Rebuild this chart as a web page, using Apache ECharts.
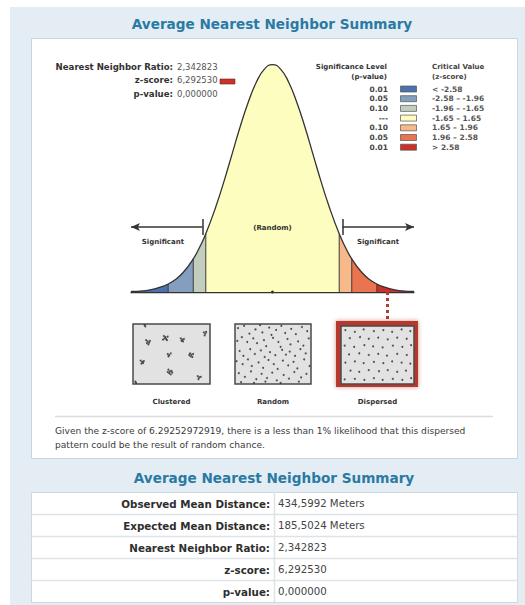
<!DOCTYPE html>
<html>
<head>
<meta charset="utf-8">
<script src="https://cdn.jsdelivr.net/npm/echarts@6/dist/echarts.min.js"></script>
<style>
  html, body { margin: 0; padding: 0; background: #fff; }
  #chart { width: 525px; height: 605px; }
</style>
</head>
<body>
<div id="chart"></div>
<script>
// normal curve (z-score -> height)
var curveZ = [-3.5, -3.2, -3.0, -2.8, -2.58, -2.4, -2.2, -1.96, -1.8, -1.65, -1.4, -1.2, -1.0, -0.8, -0.6, -0.4, -0.2, 0,
  0.2, 0.4, 0.6, 0.8, 1.0, 1.2, 1.4, 1.65, 1.8, 1.96, 2.2, 2.4, 2.58, 2.8, 3.0, 3.2, 3.5];
var curveY = [0.001, 0.002, 0.004, 0.008, 0.014, 0.022, 0.035, 0.058, 0.079, 0.102, 0.150, 0.194, 0.242, 0.290, 0.333, 0.368, 0.391, 0.399,
  0.391, 0.368, 0.333, 0.290, 0.242, 0.194, 0.150, 0.102, 0.079, 0.058, 0.035, 0.022, 0.014, 0.008, 0.004, 0.002, 0.001];

// significance zones
var zoneCuts = [-3.5, -2.58, -1.96, -1.65, 1.65, 1.96, 2.58, 3.5];
var zoneColors = ['#4a72ad', '#849ebf', '#c2cdbe', '#fefdc0', '#f8b98a', '#ea7350', '#cc3029'];
var pLevels = ['0.01', '0.05', '0.10', '---', '0.10', '0.05', '0.01'];
var zRanges = ['< -2.58', '-2.58 – -1.96', '-1.96 – -1.65', '-1.65 – 1.65', '1.65 – 1.96', '1.96 – 2.58', '> 2.58'];

var zMarker = 2.83; // where the dotted pointer leaves the curve

var statLabels = ['Nearest Neighbor Ratio:', 'z-score:', 'p-value:'];
var statValues = ['2,342823', '6,292530', '0,000000'];

var tableLabels = ['Observed Mean Distance:', 'Expected Mean Distance:', 'Nearest Neighbor Ratio:', 'z-score:', 'p-value:'];
var tableValues = ['434,5992 Meters', '185,5024 Meters', '2,342823', '6,292530', '0,000000'];

var patternNames = ['Clustered', 'Random', 'Dispersed'];
var clusteredPts = [
  [17, 73], [19, 71], [21, 69], [18, 68], [22, 72], [20, 66],
  [40, 80], [42, 78], [45, 79], [43, 75], [41, 76], [44, 73], [39, 74],
  [62, 76], [64, 74], [66, 75], [63, 72], [65, 71],
  [92, 86], [94, 84], [93, 81], [95, 87],
  [15, 98], [16, 96],
  [45, 50], [47, 48], [49, 51], [46, 46],
  [74, 51], [76, 49], [78, 50], [75, 46], [77, 45], [73, 48],
  [10, 39], [12, 37], [14, 38], [11, 34], [13, 35],
  [46, 24], [48, 21], [50, 22], [47, 18], [49, 16], [51, 19], [45, 20],
  [84, 13], [86, 11], [88, 12], [85, 8],
  [3, 4], [4, 2]
];
var randomPts = [
  [4, 93], [12, 97], [19, 84], [27, 91], [33, 98], [36, 86], [45, 94], [48, 82], [54, 90], [61, 97], [66, 85], [74, 92], [80, 83], [88, 95], [95, 88],
  [3, 72], [9, 78], [16, 70], [24, 76], [29, 68], [38, 73], [41, 63], [50, 77], [57, 70], [60, 62], [69, 75], [73, 66], [83, 71], [90, 64], [97, 76],
  [6, 55], [11, 47], [20, 58], [26, 50], [34, 56], [39, 45], [46, 53], [53, 48], [62, 57], [67, 49], [72, 54], [79, 47], [86, 58], [93, 51],
  [2, 38], [10, 33], [17, 41], [22, 30], [31, 36], [37, 27], [44, 40], [51, 33], [56, 25], [63, 39], [70, 31], [77, 37], [82, 26], [91, 41], [98, 30],
  [5, 18], [13, 12], [21, 21], [28, 8], [35, 17], [42, 10], [49, 19], [55, 6], [64, 15], [71, 9], [78, 20], [87, 11], [94, 17],
  [8, 3], [25, 2], [40, 4], [60, 2], [84, 4]
];
var dispersedPts = [
  [6, 93], [19, 90], [31, 94], [45, 91], [58, 93], [70, 90], [83, 94], [95, 91],
  [12, 79], [26, 81], [38, 78], [51, 80], [64, 77], [77, 80], [90, 78],
  [5, 66], [18, 64], [32, 67], [44, 65], [57, 63], [71, 66], [84, 64], [96, 67],
  [11, 51], [25, 53], [38, 50], [51, 52], [63, 49], [77, 52], [90, 50],
  [6, 37], [19, 39], [31, 36], [45, 38], [58, 36], [70, 39], [83, 37], [95, 35],
  [13, 23], [25, 21], [38, 24], [52, 22], [64, 24], [77, 21], [89, 23],
  [5, 8], [19, 9], [32, 7], [45, 10], [57, 7], [71, 9], [84, 7], [96, 10]
];

var FONT = '"DejaVu Sans", Verdana, sans-serif';
var INK = '#333';

var chart = echarts.init(document.getElementById('chart'), null, { renderer: 'svg' });

// --- frame, titles, legend, table (graphic) ---
var g = [];
function txt(x, y, s, size, opt) {
  opt = opt || {};
  g.push({
    type: 'text', z: 10, silent: true,
    style: {
      text: s, x: x, y: y,
      font: (opt.bold ? 'bold ' : '') + size + 'px ' + FONT,
      fill: opt.color || INK,
      textAlign: opt.align || 'left',
      textVerticalAlign: 'middle'
    }
  });
}
function rect(x, y, w, h, style, z2) {
  g.push({ type: 'rect', z: -1, z2: z2 || 0, silent: true, shape: { x: x, y: y, width: w, height: h }, style: style });
}

rect(10, 7, 515, 598, { fill: '#e3edf3' }, 0);
rect(31.5, 38.5, 486, 420, { fill: '#fff', stroke: '#c9d6de', lineWidth: 1 }, 1);
// red frame around the dispersed box
rect(336, 321, 82, 66, { fill: '#b8372d', shadowBlur: 4, shadowColor: 'rgba(150,30,20,0.5)' }, 2);

txt(272, 24, 'Average Nearest Neighbor Summary', 13.6, { bold: true, color: '#2a7aa3', align: 'center' });
txt(274, 478, 'Average Nearest Neighbor Summary', 13.6, { bold: true, color: '#2a7aa3', align: 'center' });

// stats at top left
statLabels.forEach(function (s, i) {
  var y = 67 + i * 13.3;
  txt(173, y, s, 8.6, { bold: true, align: 'right' });
  txt(177, y, statValues[i], 8.5, { color: '#555' });
});
g.push({ type: 'rect', z: 10, silent: true, shape: { x: 220, y: 79, width: 15, height: 5 },
  style: { fill: '#c9332b', stroke: '#7a1c16', lineWidth: 0.6 } });

// legend
txt(387, 67, 'Significance Level', 7, { bold: true, align: 'right' });
txt(387, 77, '(p-value)', 7, { bold: true, align: 'right' });
txt(432, 67, 'Critical Value', 7, { bold: true, color: '#444' });
txt(432, 77, '(z-score)', 7, { bold: true, color: '#444' });
pLevels.forEach(function (p, i) {
  var y = 89 + i * 9.7;
  txt(388, y, p, 7.5, { bold: true, align: 'right', color: '#444' });
  g.push({ type: 'rect', z: 10, silent: true, shape: { x: 400.5, y: y - 3, width: 16, height: 6 },
    style: { fill: zoneColors[i], stroke: '#555', lineWidth: 0.7 } });
  txt(432, y, zRanges[i], 7.5, { bold: true, color: '#555' });
});

// separator + conclusion
g.push({ type: 'line', z: 10, silent: true, shape: { x1: 55, y1: 416.5, x2: 493, y2: 416.5 }, style: { stroke: '#dcdcdc', lineWidth: 1.5 } });
txt(55, 431, 'Given the z-score of 6.29252972919, there is a less than 1% likelihood that this dispersed', 9.1, { color: '#3a3a3a' });
txt(55, 444.5, 'pattern could be the result of random chance.', 9.1, { color: '#3a3a3a' });

// summary table
var tTop = 492, rowH = 22, tLeft = 31.5, tRight = 517.5, tMid = 274.5;
rect(tLeft, tTop + 0.5, tRight - tLeft, rowH * 5, { fill: '#fff', stroke: '#cfd8dd', lineWidth: 1 }, 1);
tableLabels.forEach(function (s, i) {
  var y = tTop + i * rowH;
  if (i > 0) g.push({ type: 'line', z: 10, silent: true, shape: { x1: tLeft, y1: y + 0.5, x2: tRight, y2: y + 0.5 }, style: { stroke: '#dde3e6', lineWidth: 1.5 } });
  txt(270, y + rowH / 2 + 0.5, s, 10.3, { bold: true, align: 'right', color: '#2e2e2e' });
  txt(278, y + rowH / 2 + 0.5, tableValues[i], 10.2, { color: '#444' });
});
g.push({ type: 'line', z: 10, silent: true, shape: { x1: tMid, y1: tTop, x2: tMid, y2: tTop + rowH * 5 }, style: { stroke: '#dde3e6', lineWidth: 1.5 } });

// --- pattern boxes ---
var boxes = [
  { left: 133, top: 324, width: 77, height: 60 },
  { left: 235, top: 324, width: 76, height: 60 },
  { left: 341, top: 326, width: 73, height: 58 }
];
var patternData = [clusteredPts, randomPts, dispersedPts];

var grids = [{ left: 131, right: 111, top: 64, bottom: 284.5 }];
var xAxes = [{
  type: 'value', gridIndex: 0, min: -3.5, max: 3.5,
  axisLine: { show: true, onZero: true, lineStyle: { color: INK, width: 1.3 } },
  axisTick: { show: false }, axisLabel: { show: false }, splitLine: { show: false }
}];
var yAxes = [{ type: 'value', gridIndex: 0, min: -0.05, max: 0.4, show: false }];
var series = [];

boxes.forEach(function (b, i) {
  grids.push({
    left: b.left, top: b.top, width: b.width, height: b.height,
    show: true, backgroundColor: '#e2e2e2', borderColor: '#4a4a4a', borderWidth: 1.5
  });
  xAxes.push({
    type: 'value', gridIndex: i + 1, min: 0, max: 100,
    name: patternNames[i], nameLocation: 'middle', nameGap: 14,
    nameTextStyle: { fontFamily: FONT, fontSize: 7, fontWeight: 'bold', color: INK },
    axisLine: { show: false }, axisTick: { show: false }, axisLabel: { show: false }, splitLine: { show: false }
  });
  yAxes.push({ type: 'value', gridIndex: i + 1, min: 0, max: 100, show: false });
  series.push({
    type: 'scatter', xAxisIndex: i + 1, yAxisIndex: i + 1,
    data: patternData[i], symbolSize: 2, itemStyle: { color: '#2a2a2a' }, silent: true
  });
});

// --- bell curve zones ---
series.push({
  type: 'custom', xAxisIndex: 0, yAxisIndex: 0, silent: true, z: 2,
  data: zoneColors.map(function (c, i) { return [zoneCuts[i], zoneCuts[i + 1]]; }),
  renderItem: function (params, api) {
    var i = params.dataIndex;
    var lo = zoneCuts[i], hi = zoneCuts[i + 1];
    var pts = [api.coord([lo, 0])];
    var yLo = 0;
    for (var k = 0; k < curveZ.length; k++) {
      if (curveZ[k] >= lo - 1e-9 && curveZ[k] <= hi + 1e-9) {
        pts.push(api.coord([curveZ[k], curveY[k]]));
        if (Math.abs(curveZ[k] - lo) < 1e-9) yLo = curveY[k];
      }
    }
    pts.push(api.coord([hi, 0]));
    var children = [{ type: 'polygon', shape: { points: pts }, style: { fill: zoneColors[i] } }];
    if (i > 0) {
      var a = api.coord([lo, 0]), b = api.coord([lo, yLo]);
      children.push({ type: 'line', shape: { x1: a[0], y1: a[1], x2: b[0], y2: b[1] }, style: { stroke: '#3a3a3a', lineWidth: 1 } });
    }
    return { type: 'group', children: children };
  }
});

series.push({
  type: 'line', xAxisIndex: 0, yAxisIndex: 0, z: 3, silent: true,
  data: curveZ.map(function (z, i) { return [z, curveY[i]]; }),
  smooth: true, symbol: 'none',
  lineStyle: { color: INK, width: 1.3 },
  markLine: {
    silent: true, animation: false, symbol: ['none', 'none'],
    label: { show: false },
    lineStyle: { color: INK, width: 1.5, type: 'solid' },
    data: [
      [{ coord: [-1.73, 0.114] }, { coord: [-3.5, 0.114], symbol: 'arrow', symbolSize: [6, 9] }],
      [{ coord: [-1.73, 0.100] }, { coord: [-1.73, 0.128] }],
      [{ coord: [1.73, 0.114] }, { coord: [3.5, 0.114], symbol: 'arrow', symbolSize: [6, 9] }],
      [{ coord: [1.73, 0.100] }, { coord: [1.73, 0.128] }],
      [{ coord: [zMarker, 0], lineStyle: { color: '#b23a30', width: 3, type: 'dotted' } }, { coord: [zMarker, -0.05] }]
    ]
  },
  markPoint: {
    silent: true, animation: false, symbol: 'circle', symbolSize: 1,
    itemStyle: { color: 'transparent' },
    label: { show: true, position: 'inside', formatter: '{b}', fontFamily: FONT, fontSize: 7, fontWeight: 'bold', color: INK },
    data: [
      { name: 'Significant', coord: [-2.71, 0.088] },
      { name: 'Significant', coord: [2.61, 0.088] },
      { name: '(Random)', coord: [0, 0.112] },
      { name: '', coord: [0, 0], symbolSize: 3, itemStyle: { color: INK } }
    ]
  }
});

chart.setOption({
  animation: false,
  backgroundColor: '#fff',
  graphic: { elements: g },
  grid: grids,
  xAxis: xAxes,
  yAxis: yAxes,
  series: series
});

window.addEventListener('resize', function () { chart.resize(); });
</script>
</body>
</html>
